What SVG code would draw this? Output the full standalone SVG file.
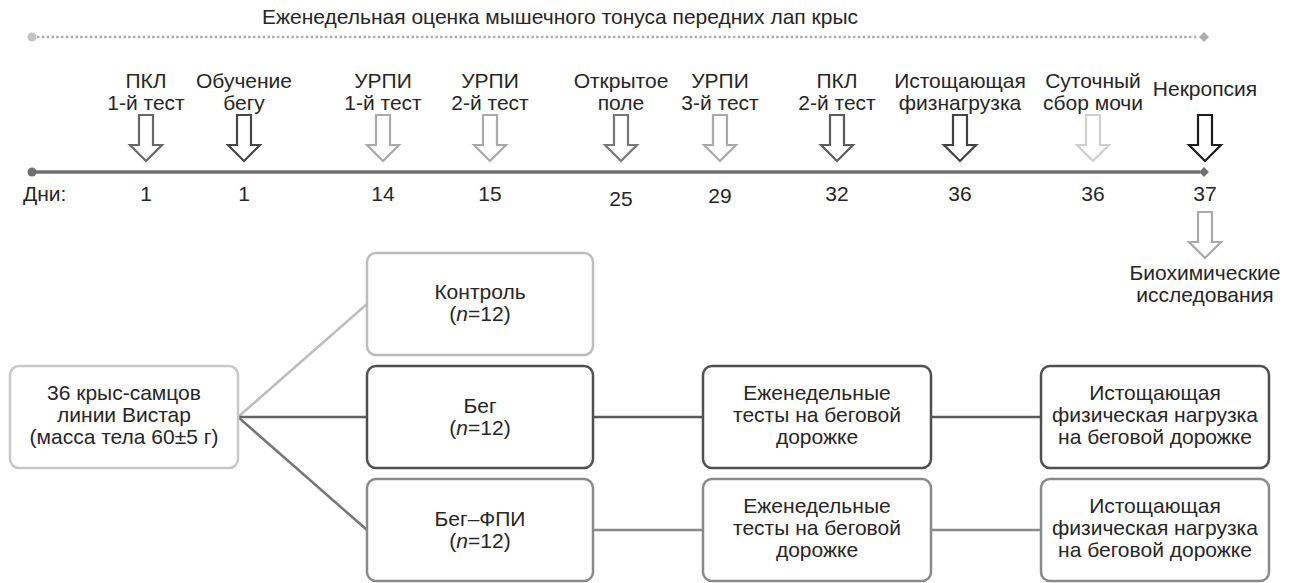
<svg xmlns="http://www.w3.org/2000/svg" width="1289" height="583" viewBox="0 0 1289 583">
<style>
.t{font-family:"Liberation Sans",Arial,sans-serif;font-size:21px;fill:#262626;text-anchor:middle}
.s{text-anchor:start}
.box{fill:#fff;stroke-width:2.5}
.arr{fill:#fff;stroke-width:2.2;stroke-linejoin:miter}
.c{fill:none;stroke-width:2.5}
</style>
<defs>
<path id="ar" d="M-7,0 H7 V30 H16 L0,46 L-16,30 H-7 Z"/>
</defs>
<rect width="1289" height="583" fill="#fff"/>

<g id="weekly">
<text class="t" x="560" y="24">Еженедельная оценка мышечного тонуса передних лап крыс</text>
<line x1="37" y1="37" x2="1198" y2="37" stroke="#ababae" stroke-width="2.4" stroke-dasharray="2.4 2.4"/>
<circle cx="32" cy="37" r="4.5" fill="#c4c4c7"/>
<path d="M1204,32 L1209,37 L1204,42 L1199,37 Z" fill="#adadb0"/>
</g>

<g id="timeline">
<line x1="32" y1="172" x2="1200" y2="172" stroke="#707070" stroke-width="3.5"/>
<circle cx="32" cy="172" r="4.5" fill="#707070"/>
<path d="M1204,167 L1209,172 L1204,177 L1199,172 Z" fill="#707070"/>
<text class="t s" x="23" y="201">Дни:</text>
</g>

<g id="ev1">
<text class="t" x="146" y="88">ПКЛ<tspan x="146" y="110">1-й тест</tspan></text>
<use href="#ar" x="146" y="115" class="arr" stroke="#686868"/>
<text class="t" x="146" y="201">1</text>
</g>
<g id="ev2">
<text class="t" x="244" y="88">Обучение<tspan x="244" y="110">бегу</tspan></text>
<use href="#ar" x="244" y="115" class="arr" stroke="#474747"/>
<text class="t" x="244" y="201">1</text>
</g>
<g id="ev3">
<text class="t" x="383" y="88">УРПИ<tspan x="383" y="110">1-й тест</tspan></text>
<use href="#ar" x="383" y="115" class="arr" stroke="#a9a9a9"/>
<text class="t" x="383" y="201">14</text>
</g>
<g id="ev4">
<text class="t" x="490" y="88">УРПИ<tspan x="490" y="110">2-й тест</tspan></text>
<use href="#ar" x="490" y="115" class="arr" stroke="#a9a9a9"/>
<text class="t" x="490" y="201">15</text>
</g>
<g id="ev5">
<text class="t" x="621" y="88">Открытое<tspan x="621" y="110">поле</tspan></text>
<use href="#ar" x="621" y="115" class="arr" stroke="#777777"/>
<text class="t" x="621" y="206">25</text>
</g>
<g id="ev6">
<text class="t" x="720" y="88">УРПИ<tspan x="720" y="110">3-й тест</tspan></text>
<use href="#ar" x="720" y="115" class="arr" stroke="#a9a9a9"/>
<text class="t" x="720" y="203">29</text>
</g>
<g id="ev7">
<text class="t" x="837" y="88">ПКЛ<tspan x="837" y="110">2-й тест</tspan></text>
<use href="#ar" x="837" y="115" class="arr" stroke="#5c5c5c"/>
<text class="t" x="837" y="201">32</text>
</g>
<g id="ev8">
<text class="t" x="960" y="88">Истощающая<tspan x="960" y="110">физнагрузка</tspan></text>
<use href="#ar" x="960" y="115" class="arr" stroke="#424242"/>
<text class="t" x="960" y="201">36</text>
</g>
<g id="ev9">
<text class="t" x="1093" y="88">Суточный<tspan x="1093" y="110">сбор мочи</tspan></text>
<use href="#ar" x="1093" y="115" class="arr" stroke="#cfcfcf"/>
<text class="t" x="1093" y="201">36</text>
</g>
<g id="ev10">
<text class="t" x="1205" y="96">Некропсия</text>
<use href="#ar" x="1205" y="115" class="arr" stroke="#1c1c1c"/>
<text class="t" x="1205" y="201">37</text>
</g>
<g id="biochem">
<use href="#ar" x="1205" y="212" class="arr" stroke="#aaaaaa"/>
<text class="t" x="1205" y="280">Биохимические<tspan x="1205" y="302">исследования</tspan></text>
</g>

<g id="connectors">
<line class="c" x1="238" y1="417" x2="367" y2="304" stroke="#bdbdbd"/>
<line class="c" x1="238" y1="417" x2="367" y2="417" stroke="#626262"/>
<line class="c" x1="238" y1="417" x2="367" y2="530" stroke="#767676"/>
<line class="c" x1="593" y1="417" x2="703" y2="417" stroke="#5a5a5a"/>
<line class="c" x1="931" y1="417" x2="1041" y2="417" stroke="#5a5a5a"/>
<line class="c" x1="593" y1="530" x2="703" y2="530" stroke="#8a8a8a"/>
<line class="c" x1="931" y1="530" x2="1041" y2="530" stroke="#8a8a8a"/>
</g>

<g id="rats">
<rect class="box" x="10" y="366" width="228" height="102" rx="9" stroke="#c8c8c8"/>
<text class="t" x="124" y="400">36 крыс-самцов<tspan x="124" y="422">линии Вистар</tspan><tspan x="124" y="444">(масса тела 60±5 г)</tspan></text>
</g>
<g id="control">
<rect class="box" x="367" y="253" width="226" height="102" rx="9" stroke="#bdbdbd"/>
<text class="t" x="480" y="299">Контроль<tspan x="480" y="321">(<tspan font-style="italic">n</tspan>=12)</tspan></text>
</g>
<g id="run">
<rect class="box" x="367" y="366" width="226" height="102" rx="9" stroke="#4f4f4f"/>
<text class="t" x="480" y="413">Бег<tspan x="480" y="435">(<tspan font-style="italic">n</tspan>=12)</tspan></text>
</g>
<g id="runfpi">
<rect class="box" x="367" y="479" width="226" height="102" rx="9" stroke="#8a8a8a"/>
<text class="t" x="480" y="526">Бег–ФПИ<tspan x="480" y="548">(<tspan font-style="italic">n</tspan>=12)</tspan></text>
</g>
<g id="weekly1">
<rect class="box" x="703" y="366" width="228" height="102" rx="9" stroke="#4f4f4f"/>
<text class="t" x="817" y="400">Еженедельные<tspan x="817" y="422">тесты на беговой</tspan><tspan x="817" y="444">дорожке</tspan></text>
</g>
<g id="exhaust1">
<rect class="box" x="1041" y="366" width="228" height="102" rx="9" stroke="#4f4f4f"/>
<text class="t" x="1155" y="400">Истощающая<tspan x="1155" y="422">физическая нагрузка</tspan><tspan x="1155" y="444">на беговой дорожке</tspan></text>
</g>
<g id="weekly2">
<rect class="box" x="703" y="479" width="228" height="102" rx="9" stroke="#8a8a8a"/>
<text class="t" x="817" y="513">Еженедельные<tspan x="817" y="535">тесты на беговой</tspan><tspan x="817" y="557">дорожке</tspan></text>
</g>
<g id="exhaust2">
<rect class="box" x="1041" y="479" width="228" height="102" rx="9" stroke="#8a8a8a"/>
<text class="t" x="1155" y="513">Истощающая<tspan x="1155" y="535">физическая нагрузка</tspan><tspan x="1155" y="557">на беговой дорожке</tspan></text>
</g>
</svg>
